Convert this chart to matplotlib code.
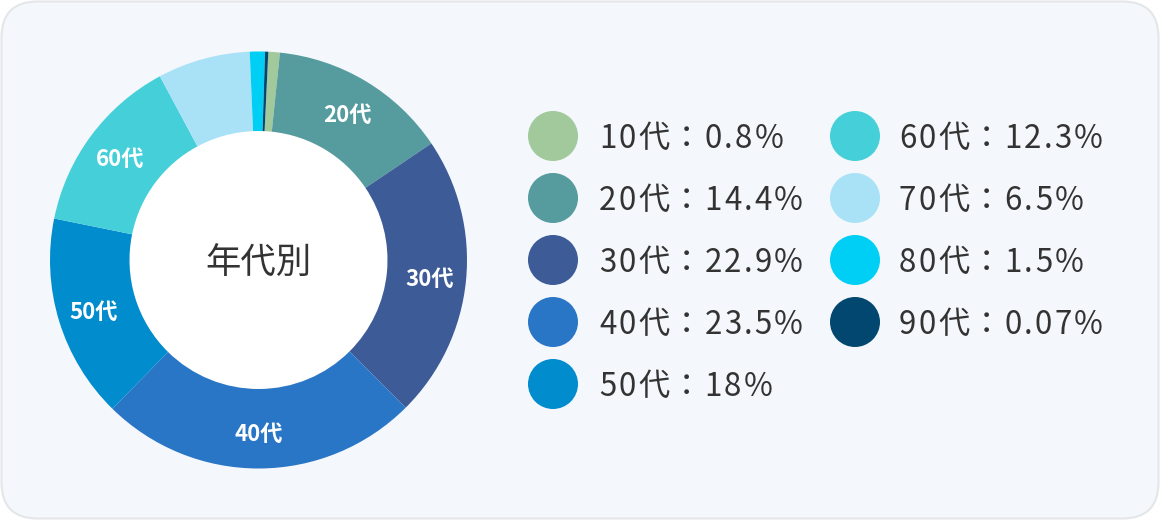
import matplotlib
matplotlib.use("Agg")
import matplotlib.pyplot as plt
from matplotlib.patches import FancyBboxPatch, Circle
from matplotlib.font_manager import findfont, FontProperties
from matplotlib.ft2font import FT2Font
import numpy as np

plt.rcParams['font.family'] = ['Noto Sans CJK JP', 'DejaVu Sans']

# ---- data ----
categories = ["10代", "20代", "30代", "40代", "50代", "60代", "70代", "80代", "90代"]
legend_pct = ["0.8", "14.4", "22.9", "23.5", "18", "12.3", "6.5", "1.5", "0.07"]
# slice shares as drawn in the reference ring (percent)
slice_share = [0.89, 13.92, 21.97, 24.83, 15.83, 13.97, 7.17, 1.17, 0.25]
slice_labels = ["", "20代", "30代", "40代", "50代", "60代", "", "", ""]
colors = ["#a1c99b", "#569c9f", "#3d5b96", "#2a76c6", "#018cce",
          "#45d0d9", "#a9e2f7", "#00cff5", "#02476f"]
center_title = "年代別"

W, H = 1160, 520
DPI = 100
fig = plt.figure(figsize=(W / DPI, H / DPI), dpi=DPI)
fig.patch.set_facecolor("white")

# background axes in pixel coordinates (y down)
bg = fig.add_axes([0, 0, 1, 1])
bg.set_xlim(0, W)
bg.set_ylim(H, 0)
bg.axis("off")
card = FancyBboxPatch((1.5, 1.5), W - 3, H - 3,
                      boxstyle="round,pad=0,rounding_size=36",
                      facecolor="#f4f7fb", edgecolor="#e4e6e8", linewidth=1.5)
bg.add_patch(card)

text_color = "#333333"
LEG_SIZE = 22.5
LETTER_SP = 2.1

try:
    from matplotlib.ft2font import LoadFlags
    NOHINT = LoadFlags.NO_HINTING
except Exception:
    NOHINT = 2

fpath = findfont(FontProperties(family='Noto Sans CJK JP'))
ft = FT2Font(fpath)
ft.set_size(LEG_SIZE, DPI)


def spaced_text(x, y_base, s):
    for ch in s:
        g = ft.load_char(ord(ch), flags=NOHINT)
        adv = g.linearHoriAdvance / 65536.0
        bg.text(x, y_base, ch, fontsize=LEG_SIZE, color=text_color,
                ha="left", va="baseline")
        x += adv + LETTER_SP


# legend
rows_y = [136, 198, 260, 322, 384]
cols = [(553, 599), (855, 899)]
for i, (cat, pct, col) in enumerate(zip(categories, legend_pct, colors)):
    c = 0 if i < 5 else 1
    r = i if i < 5 else i - 5
    cx, tx = cols[c]
    y = rows_y[r]
    bg.add_patch(Circle((cx, y), 25, facecolor=col, edgecolor="none"))
    spaced_text(tx, y + 11.5, f"{cat}：{pct}%")

# donut
cxp, cyp = 258.5, 260.0
half = 220
ax = fig.add_axes([(cxp - half) / W, (H - cyp - half) / H, 2 * half / W, 2 * half / H])
ax.axis("off")
R_out, R_in = 208.5, 129
wedges, texts = ax.pie(slice_share, colors=colors, labels=slice_labels,
                       radius=R_out, startangle=87.3, counterclock=False,
                       wedgeprops=dict(width=R_out - R_in, edgecolor="none", linewidth=0),
                       labeldistance=0.825,
                       textprops=dict(color="white", fontsize=16, fontweight="bold"),
                       frame=False)
for t in texts:
    t.set_ha("center")
    t.set_va("center_baseline")
ax.set_xlim(-half, half)
ax.set_ylim(-half, half)
ax.set_aspect("equal")
ax.add_patch(Circle((0, 0), R_in, facecolor="white", edgecolor="none", zorder=0))
ax.text(0, 0, center_title, fontsize=25.5, color=text_color, ha="center",
        va="center_baseline")

fig.savefig("out.png", dpi=DPI, facecolor="white")
